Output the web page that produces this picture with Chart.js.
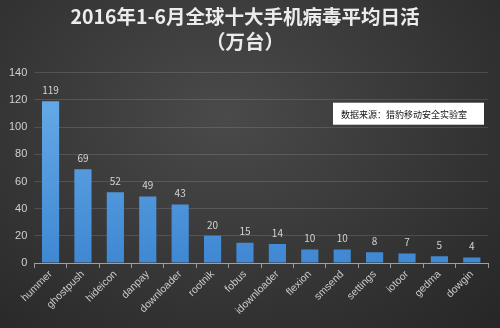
<!DOCTYPE html>
<html>
<head>
<meta charset="utf-8">
<script src="https://cdn.jsdelivr.net/npm/chart.js@4"></script>
<style>
  html, body { margin: 0; padding: 0; }
  body { width: 500px; height: 328px; overflow: hidden;
         background: radial-gradient(ellipse at 45% 35%, #4a4a4a 0%, #383838 50%, #262626 100%); }
  canvas { display: block; }
</style>
</head>
<body>
<canvas id="virusChart" width="500" height="328"></canvas>
<script>
// Top 10 mobile malware families, average daily active devices (10k), Jan-Jun 2016
const families = ['hummer', 'ghostpush', 'hideicon', 'danpay', 'downloader', 'rootnik', 'fobus',
                  'idownloader', 'flexion', 'smsend', 'settings', 'iotoor', 'gedma', 'dowgin'];
const dailyActive = [119, 69, 52, 49, 43, 20, 15, 14, 10, 10, 8, 7, 5, 4];
const yTicks = [0, 20, 40, 60, 80, 100, 120, 140];
const sourceNote = '数据来源：猎豹移动安全实验室';

const CJK = '"Noto Sans CJK SC", "Microsoft YaHei", sans-serif';

// value labels above each bar
const valueLabels = {
    id: 'valueLabels',
    afterDatasetsDraw(chart) {
        const ctx = chart.ctx;
        const meta = chart.getDatasetMeta(0);
        ctx.save();
        ctx.fillStyle = '#d4d4d4';
        ctx.font = '10px ' + CJK;
        ctx.textAlign = 'center';
        ctx.textBaseline = 'bottom';
        meta.data.forEach((bar, i) => {
            ctx.fillText(String(dailyActive[i]), bar.x, bar.y - 6);
        });
        ctx.restore();
    }
};

// white box with the data source
const sourceBox = {
    id: 'sourceBox',
    afterDraw(chart) {
        const ctx = chart.ctx;
        const area = chart.chartArea;
        const w = 151, h = 22;
        const x = area.right - w - 4;
        const y = area.top + 30;
        ctx.save();
        ctx.fillStyle = '#ffffff';
        ctx.fillRect(x, y, w, h);
        ctx.fillStyle = '#111111';
        ctx.font = '9px ' + CJK;
        ctx.textAlign = 'left';
        ctx.textBaseline = 'middle';
        ctx.fillText(sourceNote, x + 8, y + h / 2 + 1);
        ctx.restore();
    }
};

const ctx = document.getElementById('virusChart').getContext('2d');
const virusChart = new Chart(ctx, {
    type: 'bar',
    data: {
        labels: families,
        datasets: [{
            data: dailyActive,
            backgroundColor: function(context) {
                const area = context.chart.chartArea;
                if (!area) return '#4f97dc';
                const g = context.chart.ctx.createLinearGradient(0, area.top, 0, area.bottom);
                g.addColorStop(0, '#6aaeea');
                g.addColorStop(1, '#3f88d2');
                return g;
            },
            borderWidth: 0,
            barPercentage: 0.53,
            categoryPercentage: 1.0
        }]
    },
    options: {
        responsive: false,
        animation: false,
        layout: { padding: { left: 2, right: 12, top: 0, bottom: 11 } },
        plugins: {
            legend: { display: false },
            tooltip: { enabled: false },
            title: {
                display: true,
                text: ['2016年1-6月全球十大手机病毒平均日活', '（万台）'],
                color: '#ececec',
                font: { family: CJK, size: 19.5, weight: 'bold', lineHeight: 1.3 },
                padding: { top: 4, bottom: 18 }
            }
        },
        scales: {
            x: {
                grid: { display: true, drawOnChartArea: false, drawTicks: true, tickLength: 5,
                        color: '#9a9a9a', offset: true },
                border: { color: '#a0a0a0', width: 1 },
                ticks: {
                    color: '#c8c8c8',
                    font: { family: '"Liberation Sans", Arial, sans-serif', size: 10.5 },
                    maxRotation: 45, minRotation: 45,
                    autoSkip: false,
                    padding: 0
                }
            },
            y: {
                min: 0, max: 140,
                afterBuildTicks(axis) { axis.ticks = yTicks.map(v => ({ value: v })); },
                grid: { color: 'rgba(255,255,255,0.13)', drawTicks: false },
                border: { display: false },
                ticks: {
                    color: '#d0d0d0',
                    font: { family: '"Liberation Sans", Arial, sans-serif', size: 11 },
                    padding: 7
                }
            }
        }
    },
    plugins: [valueLabels, sourceBox]
});
</script>
</body>
</html>
